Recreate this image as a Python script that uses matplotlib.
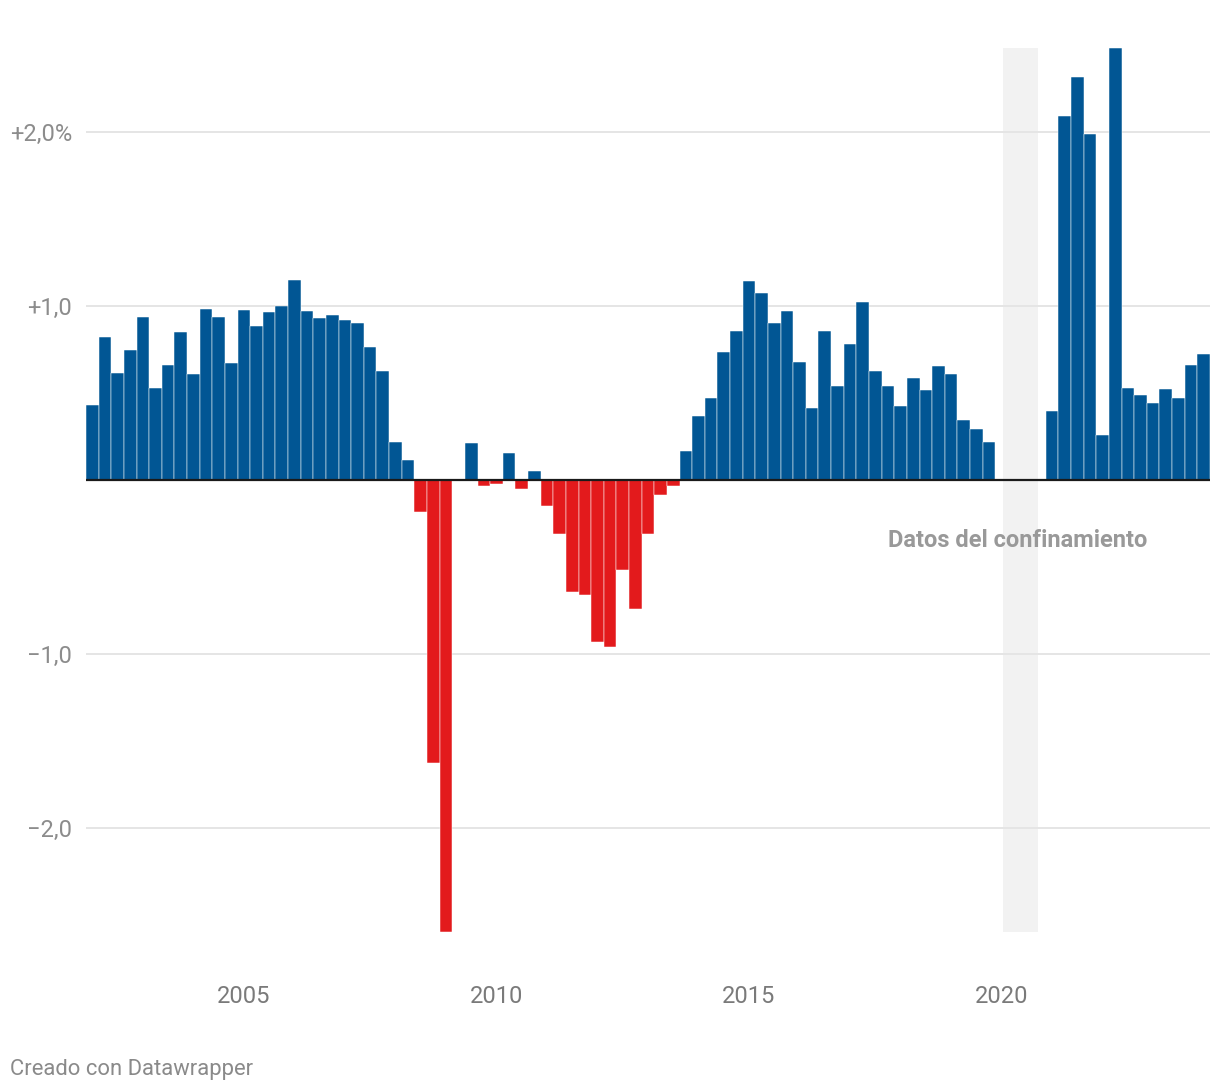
import matplotlib
matplotlib.use("Agg")
import matplotlib.pyplot as plt
import numpy as np

plt.rcParams['font.family'] = ['Roboto', 'DejaVu Sans']

# Quarterly change (%), 2002 Q1 .. 2024 Q1 (2020 not shown)
start_year = 2002
values = [
    0.43, 0.82, 0.615, 0.747,      # 2002
    0.937, 0.529, 0.661, 0.851,    # 2003
    0.609, 0.983, 0.937, 0.672,    # 2004
    0.977, 0.885, 0.966, 1.00,     # 2005
    1.149, 0.971, 0.931, 0.948,    # 2006
    0.92, 0.902, 0.764, 0.626,     # 2007
    0.218, 0.115, -0.182, -1.626,  # 2008
    -2.598, 0.0, 0.213, -0.033,    # 2009
    -0.021, 0.155, -0.05, 0.052,   # 2010
    -0.148, -0.309, -0.642, -0.659,  # 2011
    -0.929, -0.958, -0.515, -0.739,  # 2012
    -0.309, -0.084, -0.033, 0.167,   # 2013
    0.368, 0.471, 0.736, 0.856,    # 2014
    1.144, 1.075, 0.902, 0.971,    # 2015
    0.678, 0.414, 0.856, 0.540,    # 2016
    0.782, 1.023, 0.626, 0.540,    # 2017
    0.425, 0.586, 0.517, 0.655,    # 2018
    0.609, 0.345, 0.293, 0.218,    # 2019
    None, None, None, None,        # 2020
    0.397, 2.092, 2.316, 1.989,    # 2021
    0.259, 2.483, 0.529, 0.489,    # 2022
    0.443, 0.523, 0.471, 0.661,    # 2023
    0.724,                         # 2024
]
ytick_vals = [-2, -1, 1, 2]
ytick_labels = ["\u22122,0", "\u22121,0", "+1,0", "+2,0%"]
xtick_vals = [2005, 2010, 2015, 2020]
xtick_labels = ["2005", "2010", "2015", "2020"]
lockdown_span = (2020.02, 2020.72)
lockdown_label = "Datos del confinamiento"
footer = "Creado con Datawrapper"

BLUE = "#015694"
RED = "#e31a1c"
GRAY_TXT = "#8c8c8c"

W, H = 1220, 1092
fig = plt.figure(figsize=(W / 100, H / 100), dpi=100)
ax = fig.add_axes([86 / W, 1 - 932 / H, (1210 - 86) / W, (932 - 48) / H])

xs, ys = [], []
for i, v in enumerate(values):
    if v is None:
        continue
    xs.append(start_year + i / 4)
    ys.append(v)
xs = np.array(xs)
ys = np.array(ys)
colors = [BLUE if v >= 0 else RED for v in ys]
ax.bar(xs, ys, width=0.25, color=colors, edgecolor="white", linewidth=0.35, zorder=3)

ax.axvspan(*lockdown_span, color="#f2f2f2", zorder=0, lw=0)
for yv in ytick_vals:
    ax.axhline(yv, color="#e5e5e5", lw=1.4, zorder=1)
ax.axhline(0, color="#1a1a1a", lw=1.6, zorder=4)

ax.set_xlim(start_year - 0.125, start_year + (len(values) - 1) / 4 + 0.125)
ax.set_ylim(ys.min(), ys.max())

for s in ax.spines.values():
    s.set_visible(False)
ax.set_yticks(ytick_vals)
ax.set_yticklabels(ytick_labels)
ax.set_xticks(xtick_vals)
ax.set_xticklabels(xtick_labels)
ax.tick_params(axis="y", length=0, pad=10, labelsize=17, labelcolor=GRAY_TXT)
ax.tick_params(axis="x", length=0, pad=38.5, labelsize=17, labelcolor="#7a7a7a")

ax.text(2020.31, -0.345, lockdown_label, ha="center", va="center",
        fontsize=17, fontweight="bold", color="#999999", zorder=5)

fig.text(10 / W, 1 - 1069 / H, footer, ha="left", va="center",
         fontsize=15.8, color="#8a8a8a")

fig.savefig("out.png", dpi=100, facecolor="white")
